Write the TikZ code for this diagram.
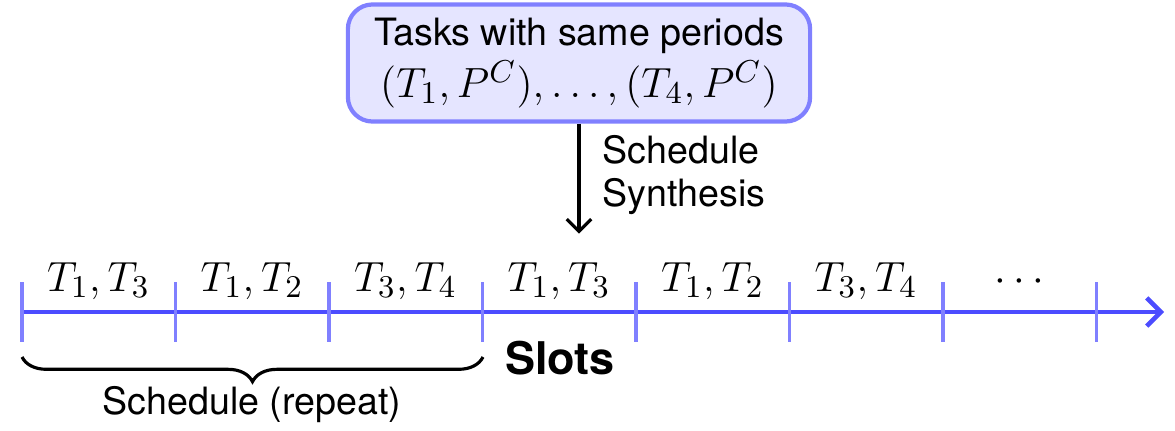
\documentclass[tikz,border=0pt]{standalone}
\usepackage{fontspec}
\setmainfont{TeX Gyre Heros}
\usetikzlibrary{arrows.meta, positioning, decorations.pathreplacing}

\newcommand{\bigmath}{\fontsize{12.7}{14.5}\selectfont}

\begin{document}
\begin{tikzpicture}[
    x=0.01cm, y=-0.01cm,
    every node/.style={font=\fontsize{10.7}{12.4}\selectfont},
    taskbox/.style={draw=blue!50, fill=blue!10, rounded corners=7pt, line width=1.2pt, align=center, minimum width=4.62cm, minimum height=1.17cm, inner sep=2pt},
    slotline/.style={-{Straight Barb[length=4pt, width=8pt]}, line width=1.3pt, blue!70},
    slottick/.style={line width=1pt, blue!50},
    slotlabel/.style={anchor=base, font=\bigmath},
    arrow/.style={-{Straight Barb[length=3.5pt, width=7pt]}, line width=0.9pt, black},
    repbrace/.style={decorate, decoration={brace, mirror, amplitude=7pt}, line width=0.9pt}
]
    \useasboundingbox (0,0) rectangle (1175,430);

    % Task set and the synthesis step below it.
    \node[taskbox] (tasks) at (579,63) {Tasks with same periods\\[1pt]{\bigmath$(T_1,P^C),\ldots,(T_4,P^C)$}};
    \path (tasks.south) ++(0,110) coordinate (synth);
    \draw[arrow] (tasks.south) -- (synth);
    \node[anchor=west, align=left] (synthlabel) at (590,175) {Schedule\\Synthesis};

    % Slot axis with its ticks.
    \coordinate (axisstart) at (22,312);
    \coordinate (axisend) at (1164,312);
    \draw[slotline] (axisstart) -- (axisend);
    \foreach \tx in {22,175.5,329,482.5,636,789.5,943,1096.5}
        \draw[slottick] (\tx,282) -- (\tx,342);

    \node[slotlabel] (slot1) at (98.5,291) {$T_1,T_3$};
    \node[slotlabel] (slot2) at (252,291) {$T_1,T_2$};
    \node[slotlabel] (slot3) at (405.5,291) {$T_3,T_4$};
    \node[slotlabel] (slot4) at (559,291) {$T_1,T_3$};
    \node[slotlabel] (slot5) at (712.5,291) {$T_1,T_2$};
    \node[slotlabel] (slot6) at (866,291) {$T_3,T_4$};
    \node[slotlabel] (slot7) at (1019.5,291) {$\cdots$};

    \node[font=\fontsize{12.8}{15}\selectfont\bfseries] (slots) at (560,358) {Slots};

    % One period of the schedule.
    \coordinate (repstart) at (22,357);
    \coordinate (repend) at (483,357);
    \draw[repbrace] (repstart) -- (repend);
    \node (replabel) at (252,405) {Schedule (repeat)};
\end{tikzpicture}
\end{document}
